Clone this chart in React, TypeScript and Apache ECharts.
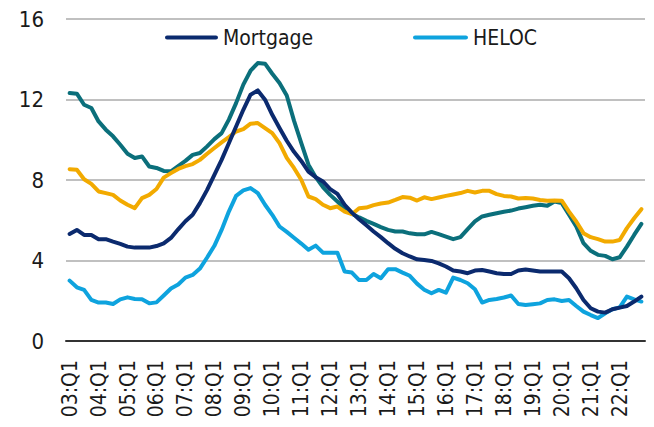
import React, { useEffect, useRef } from "react";
import * as echarts from "echarts";

const years = ["03","04","05","06","07","08","09","10","11","12","13","14","15","16","17","18","19","20","21","22"];
const quarters = ["Q1","Q2","Q3","Q4"];
const categories: string[] = [];
for (const y of years) for (const q of quarters) categories.push(`${y}:${q}`);

const mortgage = [5.32,5.52,5.27,5.27,5.06,5.06,4.94,4.83,4.69,4.64,4.64,4.64,4.72,4.85,5.12,5.55,5.95,6.27,6.85,7.51,8.26,9.0,9.83,10.66,11.49,12.24,12.45,11.99,11.24,10.58,9.95,9.4,8.95,8.42,8.14,7.93,7.55,7.31,6.77,6.38,6.05,5.75,5.44,5.16,4.86,4.58,4.36,4.2,4.06,4.03,3.98,3.86,3.7,3.5,3.45,3.37,3.5,3.53,3.45,3.37,3.33,3.33,3.5,3.55,3.5,3.45,3.45,3.45,3.45,3.12,2.62,2.04,1.63,1.46,1.41,1.58,1.66,1.74,1.96,2.21];
const heloc = [3.0,2.67,2.54,2.04,1.91,1.91,1.84,2.07,2.17,2.09,2.07,1.87,1.92,2.26,2.61,2.81,3.15,3.28,3.6,4.15,4.73,5.52,6.43,7.21,7.48,7.6,7.35,6.77,6.27,5.69,5.42,5.13,4.84,4.53,4.74,4.39,4.39,4.39,3.45,3.4,3.03,3.03,3.33,3.12,3.57,3.57,3.4,3.24,2.85,2.55,2.37,2.54,2.4,3.15,3.03,2.87,2.57,1.91,2.04,2.09,2.16,2.26,1.84,1.79,1.83,1.87,2.04,2.07,1.99,2.04,1.74,1.46,1.29,1.14,1.38,1.58,1.67,2.21,2.07,1.96];
const tealSeries = [12.32,12.29,11.74,11.58,10.91,10.5,10.17,9.75,9.3,9.09,9.17,8.67,8.6,8.45,8.43,8.69,8.95,9.25,9.34,9.67,10.03,10.33,11.0,11.82,12.74,13.43,13.81,13.78,13.28,12.82,12.2,10.95,9.85,8.76,8.14,7.65,7.26,6.93,6.6,6.32,6.14,5.97,5.82,5.66,5.52,5.44,5.44,5.35,5.3,5.3,5.42,5.31,5.19,5.06,5.16,5.56,5.94,6.19,6.27,6.35,6.42,6.48,6.58,6.65,6.72,6.77,6.72,6.93,6.85,6.27,5.69,4.86,4.48,4.28,4.23,4.06,4.16,4.69,5.27,5.82];
const goldSeries = [8.54,8.51,8.04,7.81,7.43,7.35,7.26,6.98,6.77,6.6,7.1,7.26,7.55,8.12,8.34,8.55,8.69,8.79,9.0,9.3,9.59,9.87,10.13,10.41,10.53,10.8,10.83,10.58,10.33,9.83,9.1,8.6,8.01,7.18,7.05,6.77,6.6,6.68,6.43,6.3,6.6,6.63,6.75,6.83,6.88,7.01,7.15,7.12,6.98,7.14,7.05,7.13,7.21,7.28,7.35,7.46,7.38,7.46,7.46,7.3,7.21,7.18,7.08,7.1,7.08,7.01,6.97,6.98,6.97,6.43,5.94,5.36,5.16,5.06,4.94,4.94,5.02,5.61,6.1,6.55];
const yTicks = [0, 4, 8, 12, 16];

const FONT = "'Liberation Sans Narrow', 'DejaVu Sans Condensed', 'Liberation Sans', sans-serif";
const C_NAVY = "#0b2a6e";
const C_LIGHT = "#0ea3de";
const C_TEAL = "#0b6f7b";
const C_GOLD = "#f2aa00";
const TEXT = "#1a1a1a";

const pill = "path://M2,0 L50,0 A2,2 0 0 1 50,4 L2,4 A2,2 0 0 1 2,0 Z";

export default function App() {
  const ref = useRef<HTMLDivElement>(null);
  useEffect(() => {
    if (!ref.current) return;
    const chart = echarts.init(ref.current, undefined, { renderer: "svg" });
    const line = (name: string, data: number[], color: string, z: number) => ({
      name,
      type: "line",
      data,
      symbol: "none",
      z,
      lineStyle: { color, width: 4, cap: "round", join: "round" },
      itemStyle: { color },
    });
    chart.setOption({
      animation: false,
      grid: { left: 66, right: 9, top: 19, bottom: 86 },
      legend: [
        {
          data: [{ name: "Mortgage", icon: pill }],
          left: 160,
          top: 22,
          itemWidth: 53,
          itemHeight: 5,
          textStyle: { fontFamily: FONT, fontSize: 21, color: TEXT },
        },
        {
          data: [{ name: "HELOC", icon: pill }],
          left: 408,
          top: 22,
          itemWidth: 55,
          itemHeight: 5,
          textStyle: { fontFamily: FONT, fontSize: 21, color: TEXT },
        },
      ],
      xAxis: {
        type: "category",
        data: categories,
        boundaryGap: true,
        axisLine: { lineStyle: { color: "#333", width: 2 } },
        axisTick: { show: false },
        axisLabel: {
          interval: 3,
          rotate: 90,
          margin: 19,
          fontFamily: FONT,
          fontSize: 21,
          color: TEXT,
        },
      },
      yAxis: {
        type: "value",
        min: yTicks[0],
        max: yTicks[yTicks.length - 1],
        interval: 4,
        axisLine: { show: false },
        axisTick: { show: false },
        splitLine: { lineStyle: { color: "#c0c0c0", width: 2 } },
        axisLabel: { margin: 22, fontFamily: FONT, fontSize: 22, color: TEXT },
      },
      series: [
        line("Teal", tealSeries, C_TEAL, 2),
        line("Gold", goldSeries, C_GOLD, 3),
        line("HELOC", heloc, C_LIGHT, 4),
        line("Mortgage", mortgage, C_NAVY, 5),
      ],
    });
    return () => chart.dispose();
  }, []);
  return (
    <div
      ref={ref}
      style={{ position: "fixed", left: 0, top: 0, width: 654, height: 427, background: "#fff" }}
    />
  );
}
